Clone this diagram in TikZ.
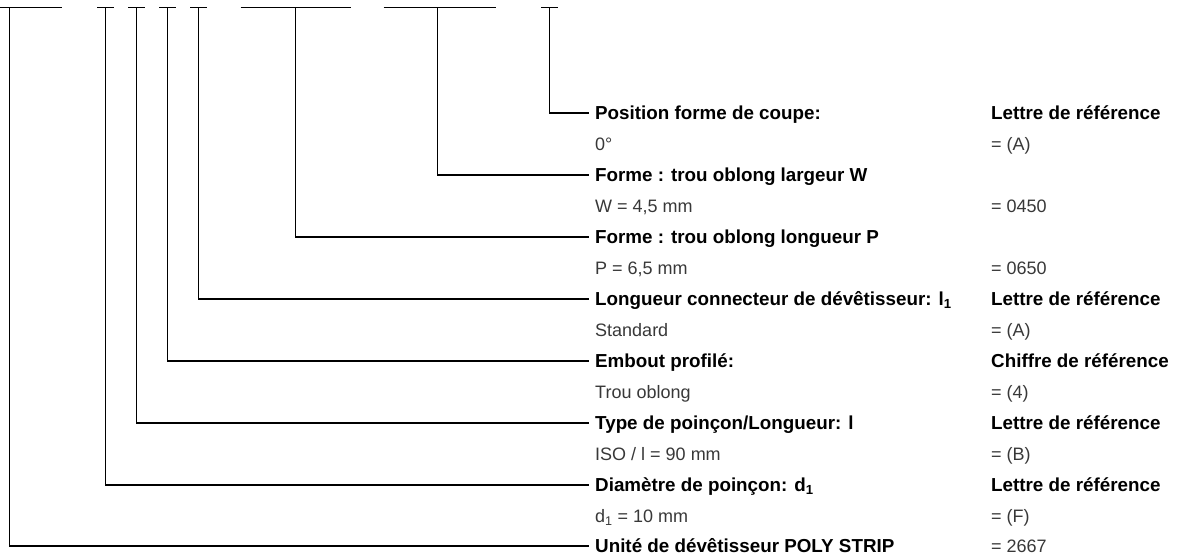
\documentclass[tikz,border=0pt]{standalone}
\usepackage{fontspec}
\setmainfont{Liberation Sans}
\begin{document}
\begin{tikzpicture}[x=1pt,y=-1pt,
  lead/.style={line width=1.4pt, black},
  head/.style={anchor=west, font=\fontsize{18.8}{18.8}\selectfont\bfseries,
    text height=14pt, text depth=1pt, inner xsep=6pt, inner ysep=0pt},
  val/.style={head, font=\fontsize{18}{18}\selectfont, text=black!78}]
\useasboundingbox (0,0) rectangle (1177,555);

% tops of the leader lines, on the code bars
\coordinate (t1) at (9.5,7.5);
\coordinate (t2) at (105.5,7.5);
\coordinate (t3) at (136.5,7.5);
\coordinate (t4) at (167.5,7.5);
\coordinate (t5) at (198.5,7.5);
\coordinate (t6) at (295.5,7.5);
\coordinate (t7) at (437.5,7.5);
\coordinate (t8) at (549.5,7.5);

% code bars
\draw[lead] (0,7.5) -- ([xshift=52.5pt]t1);
\foreach \t in {t2,t3,t4,t5,t8}
  \draw[lead] ([xshift=-8.5pt]\t) -- ([xshift=8.5pt]\t);
\draw[lead] ([xshift=-55pt]t6) -- ([xshift=55pt]t6);
\draw[lead] ([xshift=-54pt]t7) -- ([xshift=58pt]t7);

% headings (left) and reference columns (right)
\node[head] (h8) at (589,113) {Position forme de coupe:};
\node[head] (r8) at (985,113) {Lettre de référence};
\node[val]  (v8) at (589,144) {0°};
\node[val]  (w8) at (985,144) {= (A)};

\node[head] (h7) at (589,175) {Forme : trou oblong largeur W};
\node[val]  (v7) at (589,206) {W = 4,5 mm};
\node[val]  (w7) at (985,206) {= 0450};

\node[head] (h6) at (589,237) {Forme : trou oblong longueur P};
\node[val]  (v6) at (589,268) {P = 6,5 mm};
\node[val]  (w6) at (985,268) {= 0650};

\node[head] (h5) at (589,299) {Longueur connecteur de dévêtisseur: l\textsubscript{1}};
\node[head] (r5) at (985,299) {Lettre de référence};
\node[val]  (v5) at (589,330) {Standard};
\node[val]  (w5) at (985,330) {= (A)};

\node[head] (h4) at (589,361) {Embout profilé:};
\node[head] (r4) at (985,361) {Chiffre de référence};
\node[val]  (v4) at (589,392) {Trou oblong};
\node[val]  (w4) at (985,392) {= (4)};

\node[head] (h3) at (589,423) {Type de poinçon/Longueur: l};
\node[head] (r3) at (985,423) {Lettre de référence};
\node[val]  (v3) at (589,454) {ISO / l = 90 mm};
\node[val]  (w3) at (985,454) {= (B)};

\node[head] (h2) at (589,485) {Diamètre de poinçon: d\textsubscript{1}};
\node[head] (r2) at (985,485) {Lettre de référence};
\node[val]  (v2) at (589,516) {d\textsubscript{1} = 10 mm};
\node[val]  (w2) at (985,516) {= (F)};

\node[head] (h1) at (589,546) {Unité de dévêtisseur POLY STRIP};
\node[val]  (w1) at (985,546) {= 2667};

% leader lines
\foreach \i in {1,...,8}
  \draw[lead] (t\i) |- (h\i.west);
\end{tikzpicture}
\end{document}
